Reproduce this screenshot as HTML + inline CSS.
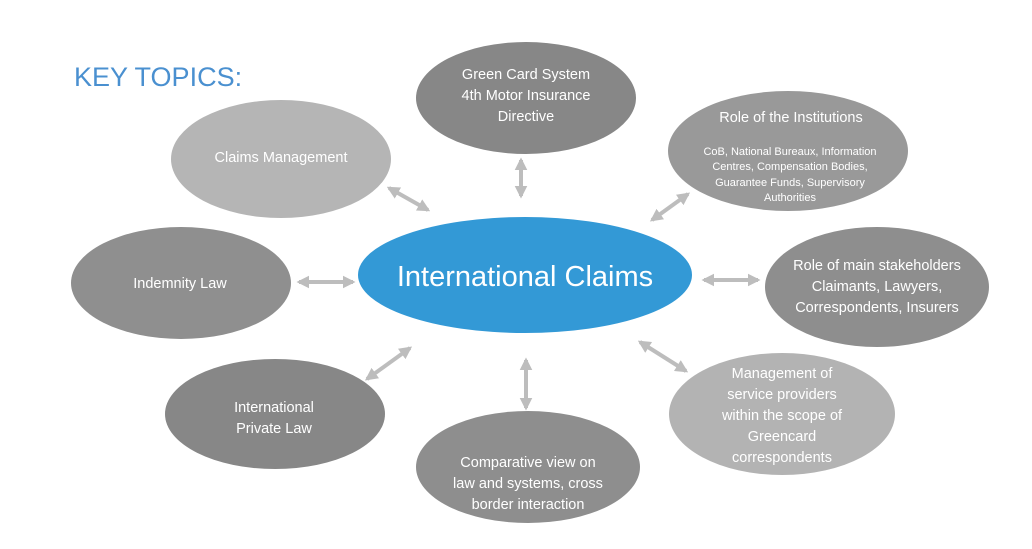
<!DOCTYPE html>
<html><head><meta charset="utf-8"><style>
html,body{margin:0;padding:0;background:#fff}
svg{display:block}
text{font-family:"Liberation Sans",sans-serif;fill:#fff;text-anchor:middle}
</style></head><body>
<svg width="1032" height="549" viewBox="0 0 1032 549" xmlns="http://www.w3.org/2000/svg">
<defs>
<marker id="a" viewBox="0 0 10 10" refX="8" refY="5" markerWidth="3.2" markerHeight="3.2" orient="auto-start-reverse">
<path d="M0,0 L10,5 L0,10 z" fill="#bdbdbd"/></marker>
</defs>
<text x="74" y="86" style="fill:#4a90d0;text-anchor:start;font-size:27px">KEY TOPICS:</text>

<g stroke="#bdbdbd" stroke-width="4" marker-start="url(#a)" marker-end="url(#a)">
<line x1="521" y1="160" x2="521" y2="196"/>
<line x1="389" y1="188" x2="428" y2="210"/>
<line x1="299" y1="282" x2="353" y2="282"/>
<line x1="652" y1="220" x2="688" y2="194"/>
<line x1="704" y1="280" x2="758" y2="280"/>
<line x1="640" y1="342" x2="686" y2="371"/>
<line x1="526" y1="360" x2="526" y2="408"/>
<line x1="367" y1="379" x2="410" y2="348"/>
</g>

<ellipse cx="526" cy="98" rx="110" ry="56" fill="#878787"/>
<ellipse cx="281" cy="159" rx="110" ry="59" fill="#b5b5b5"/>
<ellipse cx="788" cy="151" rx="120" ry="60" fill="#999999"/>
<ellipse cx="181" cy="283" rx="110" ry="56" fill="#8f8f8f"/>
<ellipse cx="877" cy="287" rx="112" ry="60" fill="#8e8e8e"/>
<ellipse cx="275" cy="414" rx="110" ry="55" fill="#878787"/>
<ellipse cx="528" cy="467" rx="112" ry="56" fill="#8e8e8e"/>
<ellipse cx="782" cy="414" rx="113" ry="61" fill="#b3b3b3"/>
<ellipse cx="525" cy="275" rx="167" ry="58" fill="#3399d6"/>

<text x="525" y="286" style="font-size:29px">International Claims</text>
<g style="font-size:14.5px">
<text x="526" y="79">Green Card System</text>
<text x="526" y="100">4th Motor Insurance</text>
<text x="526" y="121">Directive</text>
<text x="281" y="162">Claims Management</text>
<text x="180" y="288">Indemnity Law</text>
<text x="791" y="122">Role of the Institutions</text>
<text x="877" y="270">Role of main stakeholders</text>
<text x="877" y="291">Claimants, Lawyers,</text>
<text x="877" y="312">Correspondents, Insurers</text>
<text x="274" y="412">International</text>
<text x="274" y="433">Private Law</text>
<text x="528" y="467">Comparative view on</text>
<text x="528" y="488">law and systems, cross</text>
<text x="528" y="509">border interaction</text>
<text x="782" y="378">Management of</text>
<text x="782" y="399">service providers</text>
<text x="782" y="420">within the scope of</text>
<text x="782" y="441">Greencard</text>
<text x="782" y="462">correspondents</text>
</g>
<g style="font-size:11px">
<text x="790" y="155">CoB, National Bureaux, Information</text>
<text x="790" y="170">Centres, Compensation Bodies,</text>
<text x="790" y="186">Guarantee Funds, Supervisory</text>
<text x="790" y="201">Authorities</text>
</g>
</svg>
</body></html>
